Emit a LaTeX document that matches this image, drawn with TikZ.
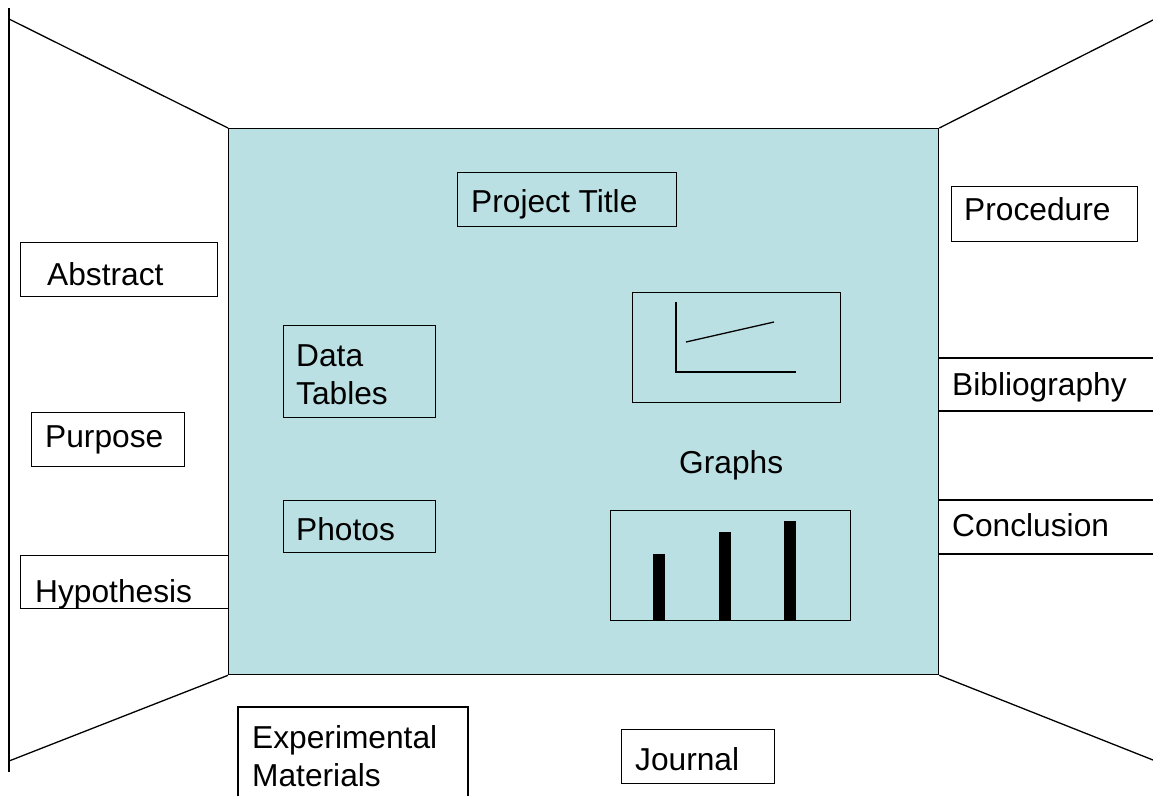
\documentclass[tikz,border=0pt]{standalone}
\usepackage{fontspec}
\setmainfont{Liberation Sans}
\definecolor{panel}{RGB}{187,224,227}
\begin{document}
\begin{tikzpicture}[x=1pt,y=-1pt,
  ln/.style={line width=1.3pt, black},
  box/.style={draw, line width=1.3pt, inner sep=0pt, anchor=north west},
  lbl/.style={inner sep=0pt, anchor=base west, font=\fontsize{31.7}{38}\selectfont}]
\useasboundingbox (0,0) rectangle (1153,796);
% back panel
\node[box, fill=panel, minimum width=710pt, minimum height=546pt] (panel) at (228,128) {};
% side walls
\coordinate (ltop) at (9,8);
\coordinate (lbot) at (9,772);
\coordinate (lt) at (9,19);
\coordinate (lb) at (9,761);
\coordinate (rt) at (1153,20);
\coordinate (rb) at (1153,760);
\draw[ln] (ltop) -- (lbot);
\draw[ln] (lt) -- (panel.north west);
\draw[ln] (lb) -- (panel.south west);
\draw[ln] (rt) -- (panel.north east);
\draw[ln] (rb) -- (panel.south east);
% left boxes
\node[box, minimum width=197pt, minimum height=54pt] (absb) at (20,242) {};
\node[lbl] (abst) at (47,285) {Abstract};
\node[box, minimum width=153pt, minimum height=54pt] (purb) at (31,412) {};
\node[lbl] (purt) at (45,447) {Purpose};
\node[box, minimum width=208pt, minimum height=53pt] (hypb) at (20,555) {};
\node[lbl] (hypt) at (35,602) {Hypothesis};
% right boxes
\node[box, minimum width=186pt, minimum height=55pt] (prob) at (951,186) {};
\node[lbl] (prot) at (964,220) {Procedure};
\coordinate (bib0) at (938,358);
\coordinate (bib1) at (1153,358);
\coordinate (bib3) at (938,411);
\coordinate (bib2) at (1153,411);
\draw[ln] (bib0) -- (bib1);
\draw[ln] (bib3) -- (bib2);
\node[lbl] (bibt) at (952,395) {Bibliography};
\coordinate (con0) at (938,500);
\coordinate (con1) at (1153,500);
\coordinate (con3) at (938,554);
\coordinate (con2) at (1153,554);
\draw[ln] (con0) -- (con1);
\draw[ln] (con3) -- (con2);
\node[lbl] (cont) at (952,536) {Conclusion};
% bottom boxes
\coordinate (exa) at (238,796);
\coordinate (exb) at (238,707);
\coordinate (exc) at (468,707);
\coordinate (exd) at (468,796);
\draw[ln] (exa) -- (exb) -- (exc) -- (exd);
\node[lbl] (ext1) at (252,748) {Experimental};
\node[lbl] (ext2) at (252,786) {Materials};
\node[box, minimum width=153pt, minimum height=54pt] (joub) at (621,729) {};
\node[lbl] (jout) at (635,770) {Journal};
% centre items
\node[box, minimum width=219pt, minimum height=54pt] (titb) at (457,172) {};
\node[lbl] (titt) at (471,212) {Project Title};
\node[box, minimum width=152pt, minimum height=92pt] (datb) at (283,325) {};
\node[lbl] (datt1) at (296,366) {Data};
\node[lbl] (datt2) at (296,404) {Tables};
\node[box, minimum width=152pt, minimum height=52pt] (phob) at (283,500) {};
\node[lbl] (phot) at (296,540) {Photos};
% line graph
\node[box, minimum width=208pt, minimum height=110pt] (lgb) at (632,292) {};
\coordinate (ax1) at (676,302);
\coordinate (ax0) at (676,372);
\coordinate (ax2) at (796,372);
\draw[ln] (ax1) -- (ax0) -- (ax2);
\coordinate (tr1) at (686,342);
\coordinate (tr2) at (774,322);
\draw[ln] (tr1) -- (tr2);
\node[lbl] (grt) at (679,473) {Graphs};
% bar graph
\node[box, minimum width=240pt, minimum height=110pt] (bgb) at (610,510) {};
\fill (653,554) rectangle (665,620);
\fill (719,532) rectangle (731,620);
\fill (784,521) rectangle (796,620);
\end{tikzpicture}
\end{document}
